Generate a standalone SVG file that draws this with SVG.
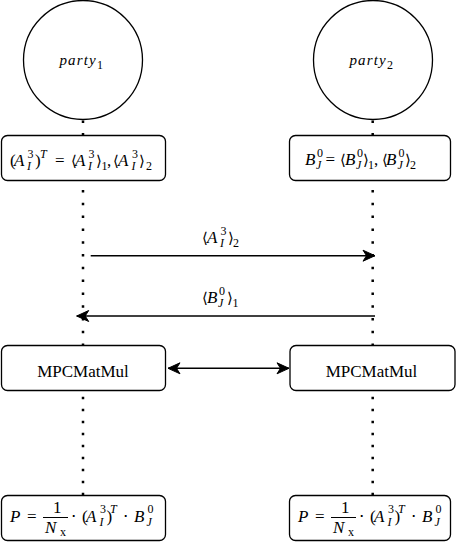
<svg xmlns="http://www.w3.org/2000/svg" width="456" height="551" viewBox="0 0 456 551">
<style>
.node{fill:#fff;stroke:#000;stroke-width:1.3}
.life{fill:none;stroke:#000;stroke-width:2.5}
.conn{fill:none;stroke:#000;stroke-width:1.4}
.m{font-family:"Liberation Serif",serif;font-size:17px;fill:#000}
.i{font-style:italic}
.s{font-size:12px}
.br{font-size:15px}
.lab{font-family:"Liberation Serif",serif;font-size:17px;fill:#000;text-anchor:middle}
</style>
<defs>
<marker id="ah" markerUnits="userSpaceOnUse" markerWidth="14" markerHeight="14" refX="13" refY="7" orient="auto-start-reverse">
<path d="M1,1.5 L13,7 L1,12.5 L4.5,7 Z" fill="#000" stroke="#000" stroke-width="1"/>
</marker>
</defs>
<rect width="456" height="551" fill="#fff"/>
<g id="lifelines">
<line class="life" x1="83" y1="120.5" x2="83" y2="135" stroke-dasharray="2.5 10.1"/>
<line class="life" x1="83" y1="177.2" x2="83" y2="345" stroke-dasharray="2.5 10.3"/>
<line class="life" x1="83" y1="384.75" x2="83" y2="495" stroke-dasharray="2.5 9.5"/>
<line class="life" x1="372.7" y1="120.5" x2="372.7" y2="135" stroke-dasharray="2.5 10.1"/>
<line class="life" x1="372.7" y1="177.2" x2="372.7" y2="345" stroke-dasharray="2.5 10.3"/>
<line class="life" x1="372.7" y1="384.75" x2="372.7" y2="495" stroke-dasharray="2.5 9.5"/>
</g>
<g id="connectors">
<line class="conn" x1="90.7" y1="255.7" x2="375" y2="255.7" marker-end="url(#ah)"/>
<line class="conn" x1="375" y1="316" x2="76.7" y2="316" marker-end="url(#ah)"/>
<line class="conn" x1="168" y1="368.3" x2="289" y2="368.3" marker-start="url(#ah)" marker-end="url(#ah)"/>
</g>
<g id="label-a">
<text class="m"><tspan class="br" x="202" y="243">⟨</tspan><tspan class="i" x="207" y="243">A</tspan><tspan class="s" x="220.5" y="235">3</tspan><tspan class="s i" x="220" y="247">I</tspan><tspan class="br" x="227.5" y="243">⟩</tspan><tspan class="s" x="233" y="246.5">2</tspan></text>
</g>
<g id="label-b">
<text class="m"><tspan class="br" x="202" y="303">⟨</tspan><tspan class="i" x="207" y="303">B</tspan><tspan class="s" x="219" y="295">0</tspan><tspan class="s i" x="218" y="307">J</tspan><tspan class="br" x="226.5" y="303">⟩</tspan><tspan class="s" x="232.5" y="306.5">1</tspan></text>
</g>
<g id="party1">
<circle class="node" cx="83" cy="60" r="59.5"/>
<text class="m"><tspan class="i" x="59.5" y="65" font-size="15" letter-spacing="1.1">party</tspan><tspan class="s" x="97" y="68.5" font-size="11">1</tspan></text>
</g>
<g id="party2">
<circle class="node" cx="373" cy="60" r="59.5"/>
<text class="m"><tspan class="i" x="349.5" y="65" font-size="15" letter-spacing="1.1">party</tspan><tspan class="s" x="387" y="68.5" font-size="11">2</tspan></text>
</g>
<g id="share1">
<rect class="node" x="1.5" y="135.5" width="164" height="45" rx="6"/>
<text class="m"><tspan x="10" y="166">(</tspan><tspan class="i" x="14" y="166">A</tspan><tspan class="s" x="27.5" y="158">3</tspan><tspan class="s i" x="27" y="170">I</tspan><tspan x="35" y="166">)</tspan><tspan class="s i" x="40" y="158">T</tspan><tspan x="55" y="166">=</tspan><tspan class="br" x="71" y="166">⟨</tspan><tspan class="i" x="75" y="166">A</tspan><tspan class="s" x="88.5" y="158">3</tspan><tspan class="s i" x="88" y="170">I</tspan><tspan class="br" x="95.5" y="166">⟩</tspan><tspan class="s" x="101.5" y="169.5">1</tspan><tspan x="107" y="166">,</tspan><tspan class="br" x="113" y="166">⟨</tspan><tspan class="i" x="118" y="166">A</tspan><tspan class="s" x="132" y="158">3</tspan><tspan class="s i" x="131.5" y="170">I</tspan><tspan class="br" x="139" y="166">⟩</tspan><tspan class="s" x="146" y="169.5">2</tspan></text>
</g>
<g id="share2">
<rect class="node" x="289.5" y="135.5" width="161" height="45" rx="6"/>
<text class="m"><tspan class="i" x="305" y="165">B</tspan><tspan class="s" x="317" y="157">0</tspan><tspan class="s i" x="316" y="169">J</tspan><tspan x="325.5" y="165">=</tspan><tspan class="br" x="340" y="165">⟨</tspan><tspan class="i" x="345" y="165">B</tspan><tspan class="s" x="357" y="157">0</tspan><tspan class="s i" x="356" y="169">J</tspan><tspan class="br" x="362.5" y="165">⟩</tspan><tspan class="s" x="368" y="168.5">1</tspan><tspan x="374" y="165">,</tspan><tspan class="br" x="382" y="165">⟨</tspan><tspan class="i" x="386" y="165">B</tspan><tspan class="s" x="398.5" y="157">0</tspan><tspan class="s i" x="397.5" y="169">J</tspan><tspan class="br" x="404.5" y="165">⟩</tspan><tspan class="s" x="410" y="168.5">2</tspan></text>
</g>
<g id="mpc1">
<rect class="node" x="1.5" y="345.5" width="164" height="45" rx="6"/>
<text class="lab" x="83" y="376.5">MPCMatMul</text>
</g>
<g id="mpc2">
<rect class="node" x="290" y="345.5" width="165" height="45" rx="6"/>
<text class="lab" x="371.5" y="376.5">MPCMatMul</text>
</g>
<g id="result1">
<rect class="node" x="1.5" y="495.5" width="164" height="45" rx="6"/>
<text class="m"><tspan class="i" x="10" y="521.5">P</tspan><tspan x="27" y="521.5">=</tspan><tspan x="53" y="513">1</tspan><tspan class="i" x="45" y="533">N</tspan><tspan class="s" x="60" y="535.5">x</tspan><tspan x="71" y="521.5">⋅</tspan><tspan x="82" y="521.5">(</tspan><tspan class="i" x="86" y="521.5">A</tspan><tspan class="s" x="100" y="513">3</tspan><tspan class="s i" x="99.5" y="525.5">I</tspan><tspan x="106.5" y="521.5">)</tspan><tspan class="s i" x="110" y="513">T</tspan><tspan x="123" y="521.5">⋅</tspan><tspan class="i" x="134" y="521.5">B</tspan><tspan class="s" x="147.5" y="513">0</tspan><tspan class="s i" x="146.5" y="525.5">J</tspan></text>
<line x1="43" y1="517.5" x2="68" y2="517.5" stroke="#000" stroke-width="1"/>
</g>
<g id="result2">
<rect class="node" x="289.5" y="495.5" width="161" height="45" rx="6"/>
<g transform="translate(288 0)">
<text class="m"><tspan class="i" x="10" y="521.5">P</tspan><tspan x="27" y="521.5">=</tspan><tspan x="53" y="513">1</tspan><tspan class="i" x="45" y="533">N</tspan><tspan class="s" x="60" y="535.5">x</tspan><tspan x="71" y="521.5">⋅</tspan><tspan x="82" y="521.5">(</tspan><tspan class="i" x="86" y="521.5">A</tspan><tspan class="s" x="100" y="513">3</tspan><tspan class="s i" x="99.5" y="525.5">I</tspan><tspan x="106.5" y="521.5">)</tspan><tspan class="s i" x="110" y="513">T</tspan><tspan x="123" y="521.5">⋅</tspan><tspan class="i" x="134" y="521.5">B</tspan><tspan class="s" x="147.5" y="513">0</tspan><tspan class="s i" x="146.5" y="525.5">J</tspan></text>
<line x1="43" y1="517.5" x2="68" y2="517.5" stroke="#000" stroke-width="1"/>
</g>
</g>
</svg>
